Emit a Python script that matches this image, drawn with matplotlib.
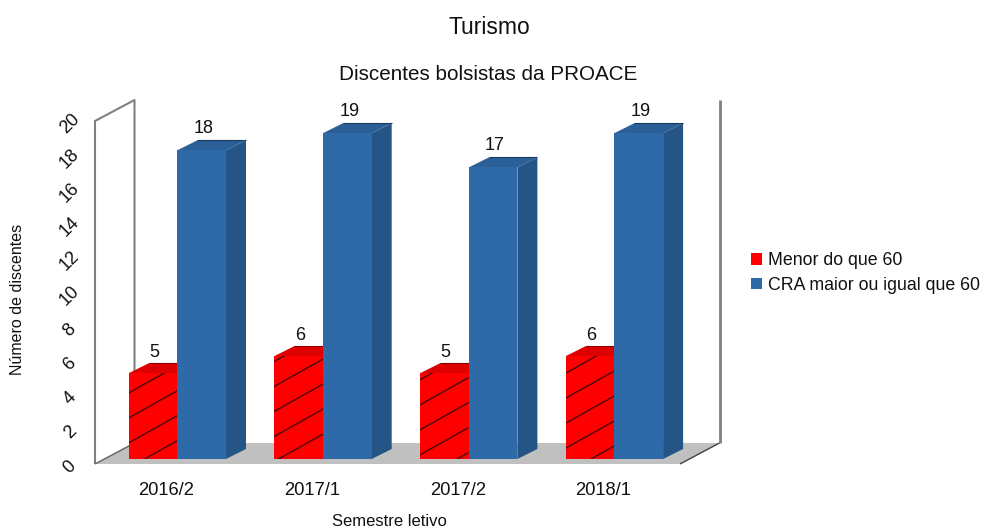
import matplotlib
matplotlib.use("Agg")
import matplotlib.pyplot as plt
import numpy as np
from matplotlib.collections import LineCollection
from matplotlib.patches import Polygon
from matplotlib.transforms import Affine2D, IdentityTransform

semesters = ["2016/2", "2017/1", "2017/2", "2018/1"]
menor = [5, 6, 5, 6]
cra = [18, 19, 17, 19]
yticks = list(range(0, 21, 2))

RED = "#ff0000"
RED_TOP = "#dd0000"
BLUE = "#2e6aa8"
BLUE_TOP = "#2b5f98"
BLUE_SIDE = "#255586"
WALL = "#808080"
FLOOR = "#c0c0c0"

W, H = 984, 527
plt.rcParams["font.family"] = ["Liberation Sans", "DejaVu Sans"]

fig = plt.figure(figsize=(W / 100, H / 100), dpi=100)
ax = fig.add_axes([95 / W, (H - 464) / H, 585 / W, 343 / H])
ax.set_xlim(-0.565, 3.45)
ax.set_ylim(0, 20)
for s in ax.spines.values():
    s.set_visible(False)

# the fake 3d depth, in pixels
wall_dx, wall_dy = 39.5, 21
bar_dx, bar_dy = 20, 10
lift = 5
width = 0.334
x = np.arange(len(semesters))


def disp(px, py, dx=0, dy=0):
    p = ax.transData.transform((px, py))
    return (p[0] + dx, p[1] + dy)


def poly(points, color, z):
    ax.add_patch(Polygon(points, closed=True, facecolor=color, edgecolor="none",
                         transform=IdentityTransform(), clip_on=False, zorder=z))


def line(points, color, lw, z):
    pts = np.array(points)
    ax.plot(pts[:, 0], pts[:, 1], color=color, lw=lw, transform=IdentityTransform(),
            clip_on=False, zorder=z, solid_capstyle="butt")


# floor and walls
x0, x1 = ax.get_xlim()
poly([disp(x0, 0), disp(x1, 0), disp(x1, 0, wall_dx, wall_dy), disp(x0, 0, wall_dx, wall_dy)], FLOOR, 1)
line([disp(x0, 0), disp(x0, 20), disp(x0, 20, wall_dx, wall_dy), disp(x0, 0, wall_dx, wall_dy)], WALL, 1.5, 2)
line([disp(x1, 0, wall_dx, wall_dy), disp(x1, 20, wall_dx, wall_dy)], WALL, 2, 2)
line([disp(x0, 0), disp(x0, 0, wall_dx, wall_dy)], "#606060", 1, 2)
line([disp(x1, 0), disp(x1, 0, wall_dx, wall_dy)], "#404040", 1, 2)

# bars, moved up a bit because they stand inside the floor
shift = ax.transData + Affine2D().translate(0, lift)
red_bars = ax.bar(x - width / 2, menor, width, color=RED, transform=shift, clip_on=False,
                  zorder=4, label="Menor do que 60")
blue_bars = ax.bar(x + width / 2, cra, width, color=BLUE, transform=shift, clip_on=False,
                   zorder=6, label="CRA maior ou igual que 60")

for xi, v in zip(x, menor):
    l, r = xi - width, xi
    poly([disp(l, v, 0, lift), disp(r, v, 0, lift), disp(r, v, bar_dx, lift + bar_dy),
          disp(l, v, bar_dx, lift + bar_dy)], RED_TOP, 3)
    line([disp(l, v, bar_dx, lift + bar_dy), disp(r, v, bar_dx, lift + bar_dy)], "#8a0000", 0.8, 3)

for xi, v in zip(x, cra):
    l, r = xi, xi + width
    poly([disp(l, v, 0, lift), disp(r, v, 0, lift), disp(r, v, bar_dx, lift + bar_dy),
          disp(l, v, bar_dx, lift + bar_dy)], BLUE_TOP, 5)
    poly([disp(r, 0, 0, lift), disp(r, v, 0, lift), disp(r, v, bar_dx, lift + bar_dy),
          disp(r, 0, bar_dx, lift + bar_dy)], BLUE_SIDE, 5)
    line([disp(l, v, bar_dx, lift + bar_dy), disp(r, v, bar_dx, lift + bar_dy)], "#173a5e", 0.8, 5)

# slanted hatch on the red bars, same line family for all of them
slope, gap, phase = 0.56, 25, 15
for bar in red_bars:
    segs = []
    for c in np.arange(phase, 900, gap):
        segs.append([(0, H - c), (W, H - c + slope * W)])
    lc = LineCollection(segs, colors="#4a0808", linewidths=1.0, transform=IdentityTransform(), zorder=5)
    ax.add_collection(lc, autolim=False)
    lc.set_clip_path(bar.get_path(), bar.get_patch_transform() + shift)

# value labels
for xi, v in zip(x, menor):
    ax.annotate(str(v), disp(xi - width / 2, v, 1, lift), xycoords=IdentityTransform(),
                xytext=(0, 21), textcoords="offset pixels", ha="center", va="center",
                fontsize=13, color="#111111", zorder=8)
for xi, v in zip(x, cra):
    ax.annotate(str(v), disp(xi + width / 2, v, 2, lift), xycoords=IdentityTransform(),
                xytext=(0, 22), textcoords="offset pixels", ha="center", va="center",
                fontsize=13, color="#111111", zorder=8)

# axes text
ax.set_xticks(x)
ax.set_xticklabels(semesters, fontsize=13.2, color="#111111")
ax.set_yticks(yticks)
ax.set_yticklabels(yticks, fontsize=13, color="#111111", rotation=45, ha="center", va="center",
                   rotation_mode="anchor")
ax.tick_params(axis="both", length=0)
ax.tick_params(axis="y", pad=18)
ax.tick_params(axis="x", pad=13)
xlabel_shift = Affine2D().translate(-11, 0)
for t in ax.get_xticklabels():
    t.set_transform(t.get_transform() + xlabel_shift)
ylabel_shift = Affine2D().translate(0, -3)
for t in ax.get_yticklabels():
    t.set_transform(t.get_transform() + ylabel_shift)

fig.text(18 / W, 1 - 299 / H, "Número de discentes", rotation=90, ha="center", va="center",
         fontsize=11.5, color="#111111")
fig.text(389 / W, 1 - 521 / H, "Semestre letivo", ha="center", va="center", fontsize=12, color="#111111")
fig.text(489.5 / W, 1 - 27 / H, "Turismo", ha="center", va="center", fontsize=16.5, color="#111111")
fig.text(488.5 / W, 1 - 75 / H, "Discentes bolsistas da PROACE", ha="center", va="center",
         fontsize=14.9, color="#111111")

fig.legend(handles=[red_bars, blue_bars], loc="center left", bbox_to_anchor=(751 / W, 1 - 273 / H),
           frameon=False, fontsize=12.8, handlelength=0.62, handleheight=0.62, handletextpad=0.34,
           labelspacing=0.42, borderpad=0, borderaxespad=0, labelcolor="#111111")

fig.savefig("out.png", dpi=100)
